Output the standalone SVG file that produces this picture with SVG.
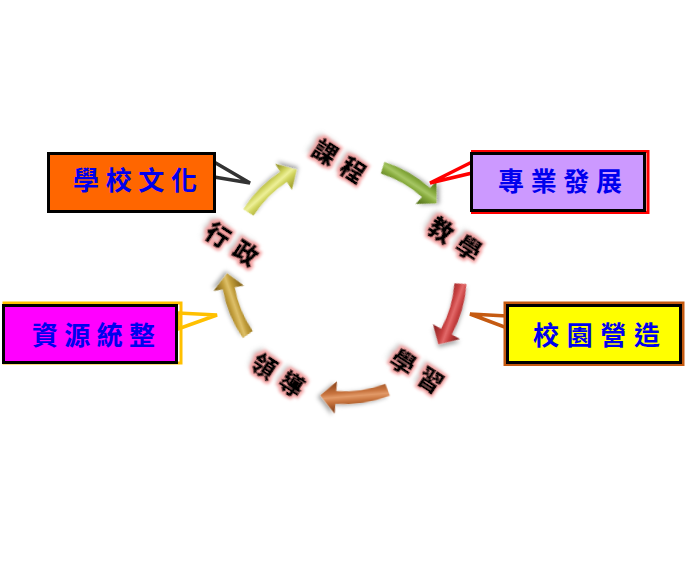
<svg xmlns="http://www.w3.org/2000/svg" width="685" height="572" viewBox="0 0 685 572">
<style>
.box{stroke:#000;stroke-width:3}
.btxt{font-family:"Noto Sans CJK TC","Noto Sans CJK SC",sans-serif;font-weight:bold;font-size:26px;fill:#0000EE;text-anchor:middle}
.lbl{font-family:"Noto Sans CJK TC","Noto Sans CJK SC",sans-serif;font-weight:900;font-size:24px;fill:#000;stroke:#000;stroke-width:0.6;text-anchor:middle}
.ptr{fill:#fff;stroke-width:3.5;stroke-linejoin:miter}
</style>
<defs>
<path id="arw" d="M118.24,-33.90 A123,123 0 0 1 121.62,18.50 L131.0,19.92 L112.47,32.25 L100.35,15.26 L109.73,16.69 A111,111 0 0 0 106.70,-30.59 Z"/>
<linearGradient id="gY" gradientUnits="userSpaceOnUse" x1="104" y1="0" x2="130" y2="0"><stop offset="0" stop-color="#A8A836"/><stop offset="0.3" stop-color="#D2D660"/><stop offset="0.45" stop-color="#EEF09A"/><stop offset="0.62" stop-color="#D2D660"/><stop offset="0.9" stop-color="#9E9E30"/></linearGradient>
<linearGradient id="gG" gradientUnits="userSpaceOnUse" x1="104" y1="0" x2="130" y2="0"><stop offset="0" stop-color="#5E7C22"/><stop offset="0.3" stop-color="#86AA3C"/><stop offset="0.45" stop-color="#A6C664"/><stop offset="0.62" stop-color="#86AA3C"/><stop offset="0.9" stop-color="#5A7620"/></linearGradient>
<linearGradient id="gR" gradientUnits="userSpaceOnUse" x1="104" y1="0" x2="130" y2="0"><stop offset="0" stop-color="#962A2A"/><stop offset="0.3" stop-color="#C84040"/><stop offset="0.45" stop-color="#E26A6A"/><stop offset="0.62" stop-color="#C84040"/><stop offset="0.9" stop-color="#8E2828"/></linearGradient>
<linearGradient id="gO" gradientUnits="userSpaceOnUse" x1="104" y1="0" x2="130" y2="0"><stop offset="0" stop-color="#984E22"/><stop offset="0.3" stop-color="#C8743E"/><stop offset="0.45" stop-color="#E29A68"/><stop offset="0.62" stop-color="#C8743E"/><stop offset="0.9" stop-color="#904A20"/></linearGradient>
<linearGradient id="gT" gradientUnits="userSpaceOnUse" x1="104" y1="0" x2="130" y2="0"><stop offset="0" stop-color="#8E6E20"/><stop offset="0.3" stop-color="#C09C3A"/><stop offset="0.45" stop-color="#DEC06A"/><stop offset="0.62" stop-color="#C09C3A"/><stop offset="0.9" stop-color="#86681E"/></linearGradient>
<filter id="sh" x="-30%" y="-30%" width="160%" height="160%"><feDropShadow dx="1" dy="3" stdDeviation="2" flood-color="#000" flood-opacity="0.35"/></filter>
<filter id="glow" x="-40%" y="-40%" width="180%" height="180%">
<feMorphology in="SourceAlpha" operator="dilate" radius="2" result="d"/>
<feGaussianBlur in="d" stdDeviation="1.5" result="b"/>
<feFlood flood-color="#F4A0A0"/>
<feComposite in2="b" operator="in" result="pink"/>
<feOffset in="SourceAlpha" dx="-5" dy="-2" result="o"/>
<feGaussianBlur in="o" stdDeviation="2.5" result="ob"/>
<feFlood flood-color="#888" flood-opacity="0.5"/>
<feComposite in2="ob" operator="in" result="gray"/>
<feMerge><feMergeNode in="gray"/><feMergeNode in="pink"/><feMergeNode in="SourceGraphic"/></feMerge>
</filter>
</defs>
<rect width="685" height="572" fill="#fff"/>

<g id="connectors">
<use href="#arw" fill="url(#gY)" filter="url(#sh)" transform="translate(347.2,275.1) rotate(228.4)"/>
<use href="#arw" fill="url(#gG)" filter="url(#sh)" transform="translate(347.6,279.4) rotate(-56.6)"/>
<use href="#arw" fill="url(#gR)" filter="url(#sh)" transform="translate(343.7,275.7) rotate(19.9)"/>
<use href="#arw" fill="url(#gO)" filter="url(#sh)" transform="translate(344.1,274.9) rotate(85.2) scale(1.05)"/>
<use href="#arw" fill="url(#gT)" filter="url(#sh)" transform="translate(344,267.9) rotate(161.3)"/>
</g>

<g id="label-kecheng" transform="translate(339,161) rotate(33)"><text class="lbl" filter="url(#glow)" x="-16.5 16.5" y="8.5">課程</text></g>
<g id="label-jiaoxue" transform="translate(455,239) rotate(33)"><text class="lbl" filter="url(#glow)" x="-16.5 16.5" y="8.5">教學</text></g>
<g id="label-xuexi" transform="translate(417,371) rotate(33)"><text class="lbl" filter="url(#glow)" x="-16.5 16.5" y="8.5">學習</text></g>
<g id="label-lingdao" transform="translate(278,375) rotate(33)"><text class="lbl" filter="url(#glow)" x="-16.5 16.5" y="8.5">領導</text></g>
<g id="label-xingzheng" transform="translate(232,244) rotate(33)"><text class="lbl" filter="url(#glow)" x="-16.5 16.5" y="8.5">行政</text></g>

<g id="box-culture">
<polygon class="ptr" stroke="#333" points="214,162 250,183 214,177"/>
<rect class="box" x="48.5" y="153.5" width="166" height="58" fill="#FF6600"/>
<text class="btxt" x="86 118.7 151.3 184" y="190">學校文化</text>
</g>

<g id="box-professional">
<polygon class="ptr" stroke="#FF0000" points="472,162 430,183 472,173"/>
<rect x="472.5" y="151.5" width="175.5" height="61" fill="none" stroke="#FF0000" stroke-width="3"/>
<rect class="box" x="471.5" y="153.5" width="173" height="57" fill="#CC99FF"/>
<text class="btxt" x="511 543.7 576.3 609" y="191">專業發展</text>
</g>

<g id="box-resource">
<polygon class="ptr" stroke="#FFC000" points="178,313 217,315 178,329"/>
<rect x="4" y="303" width="177" height="60" fill="none" stroke="#FFC000" stroke-width="3"/>
<rect class="box" x="3.5" y="305.5" width="173" height="57" fill="#FF00FF"/>
<text class="btxt" x="45 77.3 109.7 142" y="345">資源統整</text>
</g>

<g id="box-campus">
<polygon class="ptr" stroke="#C55A11" points="507,316 470,314 507,328"/>
<rect x="505" y="303" width="178" height="61.5" fill="none" stroke="#C55A11" stroke-width="3"/>
<rect class="box" x="507.5" y="305.5" width="173" height="57" fill="#FFFF00"/>
<text class="btxt" x="546 579.7 613.3 647" y="344.5">校園營造</text>
</g>
</svg>
